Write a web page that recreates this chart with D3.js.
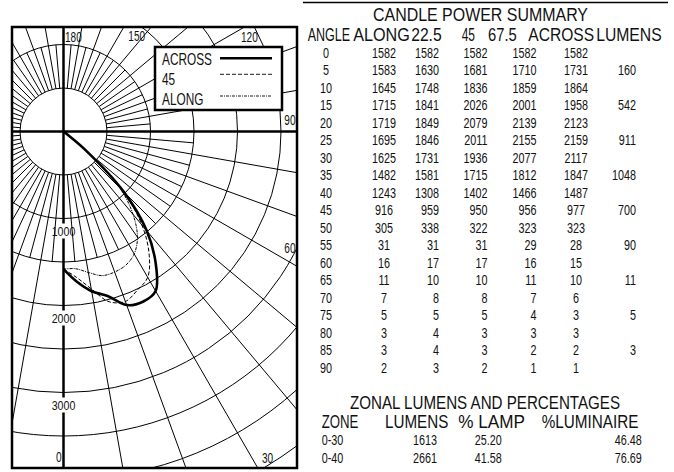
<!DOCTYPE html>
<html><head><meta charset="utf-8">
<script src="https://cdn.jsdelivr.net/npm/d3@7"></script>
<style>
html,body{margin:0;padding:0;background:#fff;}
svg{display:block;}
text{font-family:"Liberation Sans",Arial,Helvetica,sans-serif;fill:#111;}
</style></head>
<body>
<svg id="chart" width="674" height="472"></svg>
<script>
// ---------------- DATA ----------------
const angles   = [0,5,10,15,20,25,30,35,40,45,50,55,60,65,70,75,80,85,90];
const along    = [1582,1583,1645,1715,1719,1695,1625,1482,1243,916,305,31,16,11,7,5,3,3,2];
const p225     = [1582,1630,1748,1841,1849,1846,1731,1581,1308,959,338,31,17,10,8,5,4,4,3];
const p45      = [1582,1681,1836,2026,2079,2011,1936,1715,1402,950,322,31,17,10,8,5,3,3,2];
const p675     = [1582,1710,1859,2001,2139,2155,2077,1812,1466,956,323,29,16,11,7,4,3,2,1];
const across   = [1582,1731,1864,1958,2123,2159,2117,1847,1487,977,323,28,15,10,6,3,3,2,1];
const lumens   = [null,160,null,542,null,911,null,1048,null,700,null,90,null,11,null,5,null,3,null];
const cpHeaders = ["ANGLE","ALONG","22.5","45","67.5","ACROSS","LUMENS"];
const cpTitle = "CANDLE POWER SUMMARY";
const zoneTitle = "ZONAL LUMENS AND PERCENTAGES";
const zoneHeaders = ["ZONE","LUMENS","% LAMP","%LUMINAIRE"];
const zones      = ["0-30","0-40","0-60"];
const zoneLumens = [1613,2661,3451];
const zoneLamp   = ["25.20","41.58","53.92"];
const zoneLum    = ["46.48","76.69","99.45"];
const radialTicks = [1000,2000,3000];
const angleTicks  = [0,30,60,90,120,150,180];
const legendNames = ["ACROSS","45","ALONG"];

// ---------------- LAYOUT ----------------
const svg = d3.select("#chart");
const frame = {x0:12, y0:27, x1:297, y1:468};
const cx = 63.5, cy = 131.5;
const r = d3.scaleLinear().domain([0,5000]).range([0,435]);
const rad = a => a*Math.PI/180;

function ctext(sel, s, x, y, fs, sx, anchor){
  return sel.append("text")
    .attr("transform", `translate(${x},${y}) scale(${sx},1)`)
    .attr("text-anchor", anchor||"start")
    .attr("font-size", fs).text(s);
}
function wtext(sel, s, x, y, fs, w){
  return sel.append("text").attr("x", x).attr("y", y)
    .attr("font-size", fs).attr("textLength", w)
    .attr("lengthAdjust","spacingAndGlyphs").text(s);
}

// ---------------- POLAR CHART ----------------
svg.append("clipPath").attr("id","fr").append("rect")
  .attr("x",frame.x0).attr("y",frame.y0)
  .attr("width",frame.x1-frame.x0).attr("height",frame.y1-frame.y0);

const plot = svg.append("g").attr("clip-path","url(#fr)");
const grid = plot.append("g").attr("transform",`translate(${cx},${cy})`)
  .attr("fill","none").attr("stroke","#000").attr("stroke-width",1);

// circles every 500 cd
grid.selectAll("circle").data(d3.range(500,5001,500)).join("circle")
  .attr("r", d=>r(d));

// radial lines
const spokes = d3.range(0,360,5).filter(a=>a%90!==0).map(a=>{
  const lower = Math.cos(rad(a)) > 0;
  const r1 = a%10===0 ? 700 : (lower ? r(1500) : r(1000));
  return {a, r0:r(500), r1};
});
grid.selectAll("line.sp").data(spokes).join("line").attr("class","sp")
  .attr("x1",d=>d.r0*Math.sin(rad(d.a))).attr("y1",d=>d.r0*Math.cos(rad(d.a)))
  .attr("x2",d=>d.r1*Math.sin(rad(d.a))).attr("y2",d=>d.r1*Math.cos(rad(d.a)));

// main axes (thick)
plot.append("line").attr("x1",frame.x0).attr("x2",frame.x1).attr("y1",cy).attr("y2",cy)
  .attr("stroke","#000").attr("stroke-width",2.5);
plot.append("line").attr("x1",cx).attr("x2",cx).attr("y1",frame.y0).attr("y2",frame.y1)
  .attr("stroke","#000").attr("stroke-width",2.5);

// radial tick labels on the 0 deg axis
radialTicks.forEach(v=>{
  const yc = cy + r(v) + 12.5;
  plot.append("rect").attr("x",cx-3).attr("y",yc-7.5).attr("width",6).attr("height",15).attr("fill","#fff");
  ctext(plot, String(v), cx, yc+4.5, 12.5, 0.85, "middle");
});

// curves
const curveData = [
  {name:"ACROSS", vals:across, w:2.6, dash:null},
  {name:"45", vals:p45, w:1, dash:"4,2"},
  {name:"ALONG", vals:along, w:1, dash:"3,1,1,1"}
];
const line = d3.lineRadial()
  .angle(d=>Math.PI - rad(d[0]))
  .radius(d=>r(d[1]))
  .curve(d3.curveCatmullRom.alpha(0.5));
const curves = plot.append("g").attr("transform",`translate(${cx},${cy})`);
curveData.slice().reverse().forEach(c=>{
  curves.append("path").attr("d", line(angles.map((a,i)=>[a,c.vals[i]])))
    .attr("fill","none").attr("stroke","#000").attr("stroke-width",c.w)
    .attr("stroke-dasharray",c.dash).attr("stroke-linejoin","round");
});

// angle labels
const angPos = {
  180:{x:65,y:41.7,a:"start"}, 150:{x:128.3,y:40.5,a:"start"}, 120:{x:241,y:41.7,a:"start"},
  90:{x:295.5,y:125,a:"end"}, 60:{x:295.5,y:253.3,a:"end"}, 30:{x:262,y:463,a:"start"},
  0:{x:61.5,y:462,a:"end"}
};
angleTicks.forEach(t=>{
  const p = angPos[t];
  ctext(plot, String(t), p.x, p.y, 14, 0.72, p.a);
});

// legend
const lg = svg.append("g");
lg.append("rect").attr("x",155).attr("y",47).attr("width",127).attr("height",63)
  .attr("fill","#fff").attr("stroke","#000").attr("stroke-width",2.5);
const lgY = [65,85,105], lgLY=[58.3,74.3,96];
curveData.forEach((c,i)=>{
  ctext(lg, legendNames[i], 162, lgY[i], 16, 0.74, "start");
  lg.append("line").attr("x1",220).attr("x2",272).attr("y1",lgLY[i]).attr("y2",lgLY[i])
    .attr("stroke","#000").attr("stroke-width",c.w===1?0.9:c.w).attr("stroke-dasharray",c.dash);
});

// frame
svg.append("rect").attr("x",frame.x0).attr("y",frame.y0)
  .attr("width",frame.x1-frame.x0).attr("height",frame.y1-frame.y0)
  .attr("fill","none").attr("stroke","#000").attr("stroke-width",2.5);

// ---------------- CANDLE POWER TABLE ----------------
const tb = svg.append("g");
tb.append("line").attr("x1",303).attr("x2",668).attr("y1",2.5).attr("y2",2.5)
  .attr("stroke","#000").attr("stroke-width",1.5);
wtext(tb, cpTitle, 373, 21, 17.5, 215);
const hdrX = [307.7,353.2,411.2,461.7,488,528.3,596.2];
const hdrW = [42.4,56.6,30.5,13.3,28.7,65.8,65.5];
cpHeaders.forEach((h,i)=> wtext(tb, h, hdrX[i], 40.5, 17.5, hdrW[i]));

const rowY = i => 57.6 + 17.5*i;
const cols = [
  {vals:angles, x:326,   a:"middle"},
  {vals:along,  x:384,   a:"middle"},
  {vals:p225,   x:439,   a:"end"},
  {vals:p45,    x:487.5, a:"end"},
  {vals:p675,   x:536.5, a:"end"},
  {vals:across, x:576,   a:"middle"},
  {vals:lumens, x:636,   a:"end"}
];
cols.forEach(c=>{
  c.vals.forEach((v,i)=>{
    if(v===null) return;
    ctext(tb, String(v), c.x, rowY(i), 15, 0.72, c.a);
  });
});

// ---------------- ZONAL TABLE ----------------
wtext(tb, zoneTitle, 350, 409.3, 17.5, 270);
const zhX = [321.7,385,458.3,541.7], zhW=[36.7,63.3,66.7,96.7];
zoneHeaders.forEach((h,i)=> wtext(tb, h, zhX[i], 428.3, 17.5, zhW[i]));
const zY = i => 445 + 18.3*i;
zones.forEach((z,i)=>{
  ctext(tb, z, 321.7, zY(i), 15, 0.72, "start");
  ctext(tb, String(zoneLumens[i]), 425, zY(i), 15, 0.72, "middle");
  ctext(tb, zoneLamp[i], 488.3, zY(i), 15, 0.72, "middle");
  ctext(tb, zoneLum[i], 641.7, zY(i), 15, 0.72, "end");
});
</script>
</body></html>
